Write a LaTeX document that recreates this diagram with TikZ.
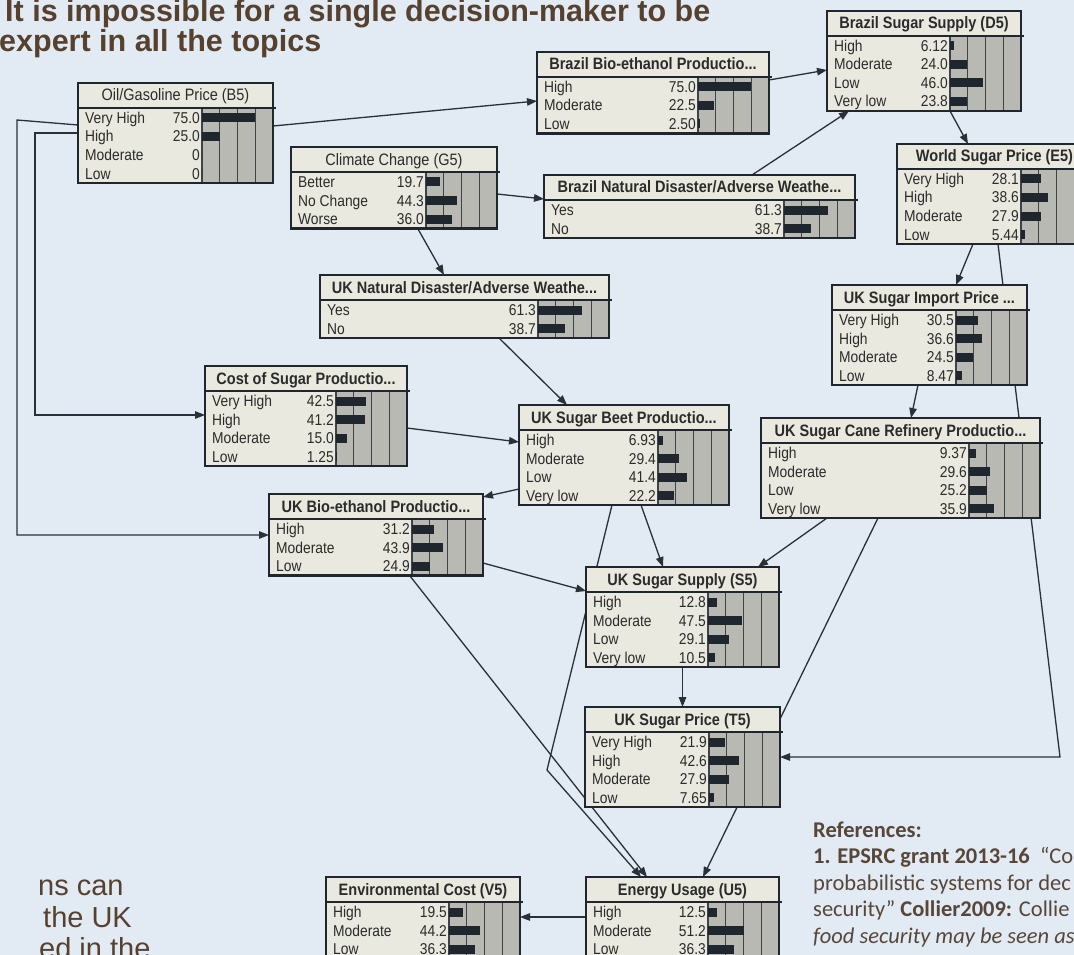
\documentclass[tikz,border=0pt]{standalone}
\usepackage{fontspec}
\setmainfont{Liberation Sans}
\newfontfamily\netf[FakeStretch=0.88]{Liberation Sans}
\newfontfamily\calf{Carlito}
\usetikzlibrary{arrows.meta,calc}
\definecolor{bgc}{HTML}{E2EAF4}
\definecolor{boxc}{HTML}{E9E9DF}
\definecolor{barbgc}{HTML}{B9B9B3}
\definecolor{darkc}{HTML}{1F262D}
\definecolor{gridc}{HTML}{3E4349}
\definecolor{linec}{HTML}{2B3036}
\definecolor{brownc}{HTML}{56412F}
\definecolor{refc}{HTML}{564739}
\definecolor{txtc}{HTML}{2B2B2B}
\pgfdeclarelayer{back}
\pgfdeclarelayer{wires}
\pgfsetlayers{back,wires,main}
\tikzset{
 boxframe/.style={draw=darkc, line width=2.4pt, inner sep=0pt, outer sep=0pt},
 gridline/.style={draw=gridc, line width=1.3pt},
 sepline/.style={draw=darkc, line width=1.6pt},
 rowlab/.style={inner sep=0pt, text=txtc, font=\netf\fontsize{15.7}{18}\selectfont},
 titletext/.style={inner sep=0pt, text=txtc, font=\netf\fontsize{16.5}{19}\selectfont},
 wire/.style={draw=linec, line width=1.3pt, -{Triangle[length=10pt,width=7.5pt]}},
 heading/.style={inner sep=0pt, text=brownc, font=\bfseries\fontsize{30.5}{36}\selectfont},
 sidetxt/.style={inner sep=0pt, text=brownc, font=\fontsize{29}{34}\selectfont},
 reftxt/.style={inner sep=0pt, text=refc, font=\calf\fontsize{22.5}{27}\selectfont}
}
% #1 name, #2 left, #3 top, #4 right, #5 rows, #6 title, #7 states
\newcommand\bnbox[7]{%
 \pgfmathsetmacro\bxB{#3+26+#5*18.5}%
 \pgfmathsetmacro\bxW{#4-#2}%
 \pgfmathsetmacro\bxH{\bxB-#3}%
 \pgfmathsetmacro\bxS{#4-71}%
 \pgfmathsetmacro\bxC{(#2+#4)/2}%
 \fill[boxc] (#2,#3) rectangle (#4,\bxB);
 \fill[barbgc] (\bxS,#3+25) rectangle (#4,\bxB);
 \foreach \k in {0,1,2,3} {\draw[gridline] ({\bxS+\k*17.75},#3+25) -- ({\bxS+\k*17.75},\bxB);}
 \foreach \lab/\val/\pct [count=\i from 0] in {#7} {%
   \pgfmathsetmacro\ry{#3+35+\i*18.5}%
   \fill[darkc] (\bxS,\ry-4.5) rectangle ({\bxS+\pct*0.71},\ry+4.5);
   \node[rowlab, anchor=base west] (#1-l\i) at (#2+7,\ry+5.5) {\lab};
   \node[rowlab, anchor=base east] (#1-v\i) at (\bxS-2,\ry+5.5) {\val};
 }%
 \draw[sepline] (#2,#3+25) -- (#4+3,#3+25);
 \node[titletext, anchor=base] (#1-t) at (\bxC,#3+18) {#6};
 \node[boxframe, minimum width=\bxW pt, minimum height=\bxH pt, anchor=north west] (#1) at (#2,#3) {};
}
\begin{document}
\begin{tikzpicture}[x=1pt,y=-1pt]
\useasboundingbox (0,0) rectangle (1074,955);
\begin{pgfonlayer}{back}
\fill[bgc] (0,0) rectangle (1074,955);
\end{pgfonlayer}
\clip (0,0) rectangle (1074,955);

\node[heading, anchor=base west] (h1) at (5,22) {It is impossible for a single decision-maker to be};
\node[heading, anchor=base west] (h2) at (-1,52) {expert in all the topics};

\node[sidetxt, anchor=base west] (s1) at (38,895) {ns can};
\node[sidetxt, anchor=base west] (s2) at (43,927) {the UK};
\node[sidetxt, anchor=base west] (s3) at (39,958) {ed in the};

\node[reftxt, anchor=base west] (r0) at (813,837) {\bfseries References:};
\node[reftxt, anchor=base west] (r1) at (813,863.5) {\textbf{1. EPSRC grant 2013-16}\ \ “Co};
\node[reftxt, anchor=base west] (r2) at (813,890) {probabilistic systems for dec};
\node[reftxt, anchor=base west] (r3) at (813,916.5) {security” \textbf{Collier2009:} Collie};
\node[reftxt, anchor=base west] (r4) at (813,943) {\itshape food security may be seen as};

\bnbox{oil}{78}{83}{273}{4}{Oil/Gasoline Price (B5)}{Very High/75.0/75, High/25.0/25, Moderate/0/0, Low/0/0}
\bnbox{bzbio}{537}{52}{769}{3}{\bfseries Brazil Bio-ethanol Productio...}{High/75.0/75, Moderate/22.5/22.5, Low/2.50/2.5}
\bnbox{bzsup}{827}{11}{1021}{4}{\bfseries Brazil Sugar Supply (D5)}{High/6.12/6.12, Moderate/24.0/24, Low/46.0/46, Very low/23.8/23.8}
\bnbox{clim}{291}{147}{497}{3}{Climate Change (G5)}{Better/19.7/19.7, No Change/44.3/44.3, Worse/36.0/36}
\bnbox{bznd}{544}{175}{855}{2}{\bfseries Brazil Natural Disaster/Adverse Weathe...}{Yes/61.3/61.3, No/38.7/38.7}
\bnbox{world}{897}{144}{1092}{4}{\bfseries World Sugar Price (E5)}{Very High/28.1/28.1, High/38.6/38.6, Moderate/27.9/27.9, Low/5.44/5.44}
\bnbox{ukndis}{320}{275}{609}{2}{\bfseries UK Natural Disaster/Adverse Weathe...}{Yes/61.3/61.3, No/38.7/38.7}
\bnbox{imp}{832}{285}{1027}{4}{\bfseries UK Sugar Import Price ...}{Very High/30.5/30.5, High/36.6/36.6, Moderate/24.5/24.5, Low/8.47/8.47}
\bnbox{cost}{205}{366}{407}{4}{\bfseries Cost of Sugar Productio...}{Very High/42.5/42.5, High/41.2/41.2, Moderate/15.0/15, Low/1.25/1.25}
\bnbox{beet}{519}{405}{729}{4}{\bfseries UK Sugar Beet Productio...}{High/6.93/6.93, Moderate/29.4/29.4, Low/41.4/41.4, Very low/22.2/22.2}
\bnbox{cane}{761}{418}{1040}{4}{\bfseries UK Sugar Cane Refinery Productio...}{High/9.37/9.37, Moderate/29.6/29.6, Low/25.2/25.2, Very low/35.9/35.9}
\bnbox{ukbio}{269}{494}{483}{3}{\bfseries UK Bio-ethanol Productio...}{High/31.2/31.2, Moderate/43.9/43.9, Low/24.9/24.9}
\bnbox{sup}{586}{567}{779}{4}{\bfseries UK Sugar Supply (S5)}{High/12.8/12.8, Moderate/47.5/47.5, Low/29.1/29.1, Very low/10.5/10.5}
\bnbox{price}{585}{707}{780}{4}{\bfseries UK Sugar Price (T5)}{Very High/21.9/21.9, High/42.6/42.6, Moderate/27.9/27.9, Low/7.65/7.65}
\bnbox{env}{326}{877}{520}{3}{\bfseries Environmental Cost (V5)}{High/19.5/19.5, Moderate/44.2/44.2, Low/36.3/36.3}
\bnbox{energy}{586}{877}{779}{3}{\bfseries Energy Usage (U5)}{High/12.5/12.5, Moderate/51.2/51.2, Low/36.3/36.3}

\coordinate (bendW) at (1060,757);
\coordinate (bendB) at (547,770);

\begin{pgfonlayer}{wires}
\draw[wire] ($(oil.north west)+(195,43)$) -- ($(bzbio.north west)+(0,49)$);
\draw[wire] ($(oil.north west)+(0,50)$) -- ++(-43,0) |- ($(cost.north west)+(0,49)$);
\draw[wire] ($(oil.north west)+(0,42)$) -- ++(-61,-5) |- ($(ukbio.north west)+(0,41)$);
\draw[wire] ($(bzbio.north west)+(232,28)$) -- ($(bzsup.north west)+(0,59)$);
\draw[wire] ($(clim.north west)+(206,47)$) -- ($(bznd.north west)+(0,24)$);
\draw[wire] ($(bznd.north west)+(208,0)$) -- ($(bzsup.north west)+(22,100)$);
\draw[wire] ($(clim.north west)+(127,82)$) -- ($(ukndis.north west)+(124,0)$);
\draw[wire] ($(ukndis.north west)+(179,63)$) -- ($(beet.north west)+(48,0)$);
\draw[wire] ($(cost.north west)+(202,62)$) -- ($(beet.north west)+(0,37)$);
\draw[wire] ($(beet.north west)+(0,84)$) -- ($(ukbio.north west)+(214,3)$);
\draw[wire] ($(beet.north west)+(122,100)$) -- ($(sup.north west)+(77,0)$);
\draw[wire] ($(ukbio.north west)+(214,69)$) -- ($(sup.north west)+(0,24)$);
\draw[wire] ($(cane.north west)+(66,100)$) -- ($(sup.north west)+(172,0)$);
\draw[wire] ($(imp.north west)+(86,100)$) -- ($(cane.north west)+(150,0)$);
\draw[wire] ($(world.north west)+(76,100)$) -- ($(imp.north west)+(124,0)$);
\draw[wire] ($(bzsup.north west)+(123,100)$) -- ($(world.north west)+(71,0)$);
\draw[wire] ($(world.north west)+(101,100)$) -- (bendW) -- (price.east);
\draw[wire] (sup.south) -- (price.north);
\draw[wire] ($(cane.north west)+(117,100)$) -- ($(energy.north west)+(117,0)$);
\draw[wire] ($(beet.north west)+(93,100)$) -- (bendB) -- ($(energy.north west)+(55,0)$);
\draw[wire] ($(ukbio.north west)+(141,82)$) -- ($(energy.north west)+(61,0)$);
\draw[wire] ($(energy.north west)+(0,40)$) -- ($(env.north east)+(0,40)$);
\end{pgfonlayer}
\end{tikzpicture}
\end{document}
